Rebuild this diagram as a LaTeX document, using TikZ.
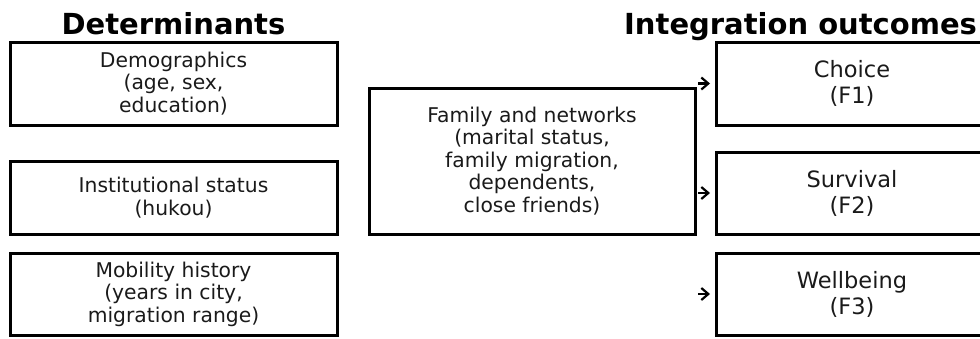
\documentclass[tikz,border=0pt]{standalone}
\usepackage{fontspec}
\setmainfont{DejaVu Sans}
\usetikzlibrary{arrows.meta}
\definecolor{txt}{HTML}{1A1A1A}
\tikzset{
  detbox/.style={draw=black, line width=3pt, minimum width=327pt, inner sep=0pt, align=center,
    text=txt, font=\fontsize{20.3}{22.5}\selectfont},
  outbox/.style={draw=black, line width=3pt, minimum width=272pt, minimum height=83pt, inner sep=0pt, align=center,
    text=txt, font=\fontsize{22.5}{26}\selectfont},
  ttl/.style={font=\fontsize{29}{32}\selectfont\bfseries, inner sep=0pt},
  arr/.style={line width=2.2pt, -{Straight Barb[length=7pt,width=12pt,line width=2.2pt]}},
}
\begin{document}
\begin{tikzpicture}[x=1pt,y=1pt]
\useasboundingbox (0,0) rectangle (980,-338);
\node[ttl, anchor=base] (t1) at (173.5,-34) {Determinants};
\node[ttl, anchor=base west] (t2) at (624,-34) {Integration outcomes};
\node[detbox, minimum height=83pt] (demo) at (173.5,-83.5) {Demographics\\(age, sex,\\education)};
\node[detbox, minimum height=73pt] (inst) at (173.5,-197.5) {Institutional status\\(hukou)};
\node[detbox, minimum height=82pt] (mob) at (173.5,-294) {Mobility history\\(years in city,\\migration range)};
\node[detbox, minimum height=146pt, minimum width=326pt] (fam) at (532,-161) {Family and networks\\(marital status,\\family migration,\\dependents,\\close friends)};
\node[outbox] (f1) at (852,-83.5) {Choice\\(F1)};
\node[outbox, minimum height=82pt] (f2) at (852,-193) {Survival\\(F2)};
\node[outbox, minimum height=82pt] (f3) at (852,-294) {Wellbeing\\(F3)};
\coordinate (s1) at (698,-83.5);
\coordinate (s2) at (698,-193);
\coordinate (s3) at (698,-294);
\draw[arr, shorten >=4.5pt] (s1) -- (f1.west);
\draw[arr, shorten >=4.5pt] (s2) -- (f2.west);
\draw[arr, shorten >=4.5pt] (s3) -- (f3.west);
\end{tikzpicture}
\end{document}
